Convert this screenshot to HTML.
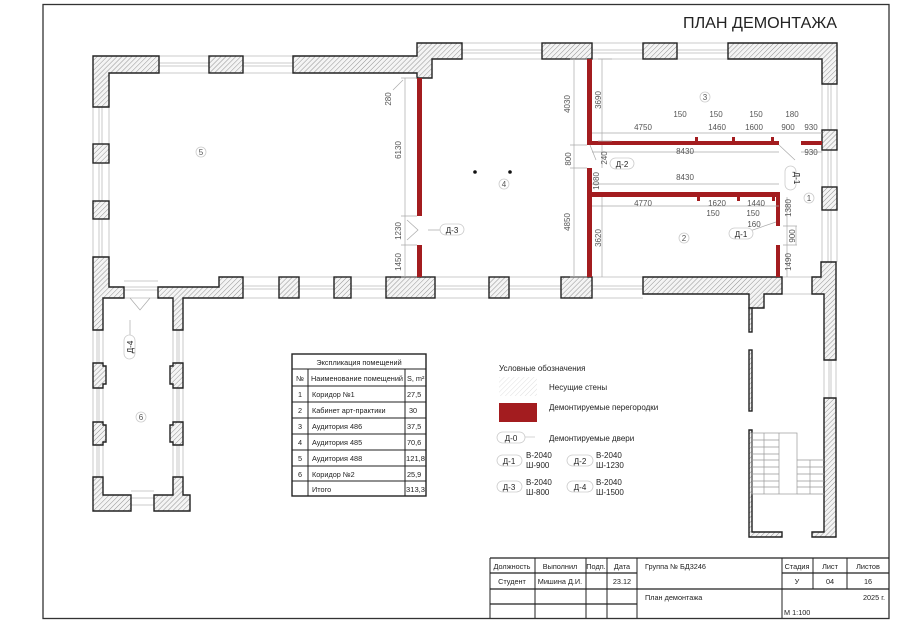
<!DOCTYPE html>
<html><head><meta charset="utf-8"><style>
html,body{margin:0;padding:0;background:#fff;}
svg{display:block;font-family:"Liberation Sans","DejaVu Sans",sans-serif;}
.w{fill:url(#h);stroke:#222;stroke-width:1.4;}
.r{fill:#a31c1f;}
.d{stroke:#aaa;stroke-width:0.7;fill:none;}
.t{font-size:8px;fill:#555;}
.tb{font-size:8px;fill:#222;}
.tt{font-size:7.3px;fill:#222;}
.win{stroke:#bbb;stroke-width:0.8;fill:none;}
.pill{fill:#fff;stroke:#ccc;stroke-width:0.8;}
</style></head><body>
<svg width="900" height="633" viewBox="0 0 900 633" xmlns="http://www.w3.org/2000/svg">
<defs>
<pattern id="h" width="3.5" height="3.5" patternUnits="userSpaceOnUse" patternTransform="rotate(45)">
<rect width="3.5" height="3.5" fill="#f4f4f4"/><line x1="0" y1="0" x2="0" y2="3.5" stroke="#888" stroke-width="0.9"/>
</pattern>
<pattern id="hl" width="3.5" height="3.5" patternUnits="userSpaceOnUse" patternTransform="rotate(45)">
<rect width="3.5" height="3.5" fill="#fff"/><line x1="0" y1="0" x2="0" y2="3.5" stroke="#ddd" stroke-width="0.9"/>
</pattern>
</defs>
<rect x="43" y="4.5" width="846" height="614" fill="none" stroke="#333" stroke-width="1.3"/>
<text x="683" y="28" font-size="15.5" fill="#222" textLength="154" lengthAdjust="spacingAndGlyphs">ПЛАН ДЕМОНТАЖА</text>

<g class="win">
<path d="M159 56H209M159 73H209M159 63H209M159 66H209"/>
<path d="M243 56H293M243 73H293M243 63H293M243 66H293"/>
<path d="M462 43H542M462 59H542M462 50H542M462 53H542"/>
<path d="M592 43H643M592 59H643M592 50H643M592 53H643"/>
<path d="M677 43H728M677 59H728M677 50H728M677 53H728"/>
<path d="M822 84V130M837 84V130M828 84V130M831 84V130"/>
<path d="M822 150V187M837 150V187M828 150V187M831 150V187"/>
<path d="M822 210V262M837 210V262M828 210V262M831 210V262"/>
<path d="M93 107V144M109 107V144M99 107V144M102 107V144"/>
<path d="M93 163V201M109 163V201M99 163V201M102 163V201"/>
<path d="M93 219V257M109 219V257M99 219V257M102 219V257"/>
<path d="M243 277H279M243 298H279M243 286H279M243 289H279"/>
<path d="M299 277H334M299 298H334M299 286H334M299 289H334"/>
<path d="M351 277H386M351 298H386M351 286H386M351 289H386"/>
<path d="M435 277H489M435 298H489M435 286H489M435 289H489"/>
<path d="M509 277H561M509 298H561M509 286H561M509 289H561"/>
<path d="M592 277H643M592 298H643M592 286H643M592 289H643"/>
<path d="M124 281H158M124 298H158M124 287H158M124 290H158"/>
<path d="M93 330V363M103 330V363M97 330V363M99 330V363"/>
<path d="M93 388V422M103 388V422M97 388V422M99 388V422"/>
<path d="M93 445V477M103 445V477M97 445V477M99 445V477"/>
<path d="M173 330V363M183 330V363M177 330V363M179 330V363"/>
<path d="M173 388V422M183 388V422M177 388V422M179 388V422"/>
<path d="M173 445V477M183 445V477M177 445V477M179 445V477"/>
<path d="M131 491H154M131 505H154M131 498H154"/>
<path d="M824 360V398M836 360V398M829 360V398M831 360V398"/>
<path d="M782 277H812M782 294H812"/>
</g>

<g class="w">
<path d="M93 56H159V73H109V107H93Z"/>
<rect x="209" y="56" width="34" height="17"/>
<path d="M293 56H417V43H462V59H432V78H417V73H293Z"/>
<rect x="542" y="43" width="50" height="16"/>
<rect x="643" y="43" width="34" height="16"/>
<path d="M728 43H837V84H822V59H728Z"/>
<rect x="822" y="130" width="15" height="20"/>
<rect x="822" y="187" width="15" height="23"/>
<rect x="93" y="144" width="16" height="19"/>
<rect x="93" y="201" width="16" height="18"/>
<path d="M93 257H109V287H124V298H103V330H93Z"/>
<path d="M158 287H219V277H243V298H183V330H173V298H158Z"/>
<rect x="279" y="277" width="20" height="21"/>
<rect x="334" y="277" width="17" height="21"/>
<rect x="386" y="277" width="49" height="21"/>
<rect x="489" y="277" width="20" height="21"/>
<rect x="561" y="277" width="31" height="21"/>
<path d="M643 277H782V294H764V308H749V294H643Z"/>
<path d="M821 262H836V360H824V294H812V277H821Z"/>
<path d="M824 398H836V537H812V532H824Z"/>
<rect x="749" y="308" width="3" height="24"/>
<rect x="749" y="350" width="3" height="61"/>
<path d="M749 430H752V532H782V537H749Z"/>
<path d="M93 363H103V366H106V384H103V388H93Z"/>
<path d="M93 422H103V425H106V442H103V445H93Z"/>
<path d="M183 363H173V366H170V384H173V388H183Z"/>
<path d="M183 422H173V425H170V442H173V445H183Z"/>
<path d="M93 477H103V495H131V511H93Z"/>
<path d="M173 477H183V495H190V511H154V495H173Z"/>
</g>

<g stroke="#999" stroke-width="0.7" fill="none">
<rect x="752" y="433" width="45" height="61"/>
<line x1="779" y1="433" x2="779" y2="494"/>
<line x1="764" y1="433" x2="764" y2="494"/>
<path d="M752 440H779M752 447H779M752 454H779M752 460H779M752 467H779M752 474H779M752 481H779M752 487H779"/>
<path d="M797 460H824M797 467H824M797 474H824M797 481H824M797 487H824M797 494H824"/>
<line x1="810" y1="460" x2="810" y2="494"/>
</g>

<g class="r">
<rect x="417" y="78" width="5" height="138"/>
<rect x="417" y="245" width="5" height="32"/>
<rect x="587" y="59" width="5" height="86"/>
<rect x="587" y="168" width="5" height="109"/>
<rect x="592" y="141" width="187" height="4"/>
<rect x="801" y="141" width="21" height="4"/>
<rect x="695" y="137" width="3" height="5"/>
<rect x="732" y="137" width="3" height="5"/>
<rect x="771" y="137" width="3" height="5"/>
<rect x="592" y="192" width="188" height="5"/>
<rect x="776" y="192" width="4" height="34"/>
<rect x="776" y="245" width="4" height="32"/>
<rect x="697" y="196" width="3" height="5"/>
<rect x="737" y="196" width="3" height="5"/>
<rect x="772" y="196" width="3" height="5"/>
</g>

<g class="d">
<path d="M405 78V277M401 78H417M401 216H417M401 245H417M401 277H417"/>
<path d="M574 59V277M570 59H587M570 145H587M570 168H587M570 277H587"/>
<path d="M602 59V141M602 145V168M602 197V277M598 59H612M598 141H612"/>
<path d="M592 133H822M592 152H779M801 152H822M592 184H779M592 206H779"/>
<path d="M787 197V277M783 226H797M783 245H797"/>
<path d="M779 145L795 160M741 234L776 222M796 226V245"/>
<path d="M407 220L418 230L407 240M428 230H440"/>
<path d="M130 298L140 310L150 298M130 320V340"/>
<path d="M393 90L403 80M590 145L596 160"/>
</g>
<g class="t">
<text transform="translate(391,99) rotate(-90)" text-anchor="middle">280</text>
<text transform="translate(401,150) rotate(-90)" text-anchor="middle">6130</text>
<text transform="translate(401,231) rotate(-90)" text-anchor="middle">1230</text>
<text transform="translate(401,262) rotate(-90)" text-anchor="middle">1450</text>
<text transform="translate(570,104) rotate(-90)" text-anchor="middle">4030</text>
<text transform="translate(601,100) rotate(-90)" text-anchor="middle">3690</text>
<text transform="translate(571,159) rotate(-90)" text-anchor="middle">800</text>
<text transform="translate(607,158) rotate(-90)" text-anchor="middle">240</text>
<text transform="translate(599,181) rotate(-90)" text-anchor="middle">1080</text>
<text transform="translate(570,222) rotate(-90)" text-anchor="middle">4850</text>
<text transform="translate(601,238) rotate(-90)" text-anchor="middle">3620</text>
<text transform="translate(791,208) rotate(-90)" text-anchor="middle">1380</text>
<text transform="translate(795,236) rotate(-90)" text-anchor="middle">900</text>
<text transform="translate(791,262) rotate(-90)" text-anchor="middle">1490</text>
<text x="680" y="117" text-anchor="middle">150</text>
<text x="716" y="117" text-anchor="middle">150</text>
<text x="756" y="117" text-anchor="middle">150</text>
<text x="792" y="117" text-anchor="middle">180</text>
<text x="643" y="130" text-anchor="middle">4750</text>
<text x="717" y="130" text-anchor="middle">1460</text>
<text x="754" y="130" text-anchor="middle">1600</text>
<text x="788" y="130" text-anchor="middle">900</text>
<text x="811" y="130" text-anchor="middle">930</text>
<text x="685" y="154" text-anchor="middle">8430</text>
<text x="811" y="155" text-anchor="middle">930</text>
<text x="685" y="180" text-anchor="middle">8430</text>
<text x="643" y="206" text-anchor="middle">4770</text>
<text x="717" y="206" text-anchor="middle">1620</text>
<text x="756" y="206" text-anchor="middle">1440</text>
<text x="713" y="216" text-anchor="middle">150</text>
<text x="753" y="216" text-anchor="middle">150</text>
<text x="754" y="227" text-anchor="middle">160</text>
</g>
<g>
<circle cx="705" cy="97" r="5" class="pill"/><text x="705" y="100" class="t" text-anchor="middle">3</text>
<circle cx="809" cy="198" r="5" class="pill"/><text x="809" y="201" class="t" text-anchor="middle">1</text>
<circle cx="684" cy="238" r="5" class="pill"/><text x="684" y="241" class="t" text-anchor="middle">2</text>
<circle cx="504" cy="184" r="5" class="pill"/><text x="504" y="187" class="t" text-anchor="middle">4</text>
<circle cx="201" cy="152" r="5" class="pill"/><text x="201" y="155" class="t" text-anchor="middle">5</text>
<circle cx="141" cy="417" r="5" class="pill"/><text x="141" y="420" class="t" text-anchor="middle">6</text>
<circle cx="475" cy="172" r="1.8" fill="#111"/><circle cx="510" cy="172" r="1.8" fill="#111"/>
<rect x="610" y="158" width="24" height="11" rx="5.5" class="pill"/><text x="622" y="167" class="tb" text-anchor="middle">Д-2</text>
<rect x="440" y="224" width="24" height="11" rx="5.5" class="pill"/><text x="452" y="233" class="tb" text-anchor="middle">Д-3</text>
<rect x="729" y="228" width="24" height="11" rx="5.5" class="pill"/><text x="741" y="237" class="tb" text-anchor="middle">Д-1</text>
<rect x="785" y="166" width="11" height="24" rx="5.5" class="pill"/><text transform="translate(794,178) rotate(90)" class="tb" text-anchor="middle">Д-1</text>
<rect x="124" y="335" width="11" height="24" rx="5.5" class="pill"/><text transform="translate(133,347) rotate(-90)" class="tb" text-anchor="middle">Д-4</text>
</g>

<g stroke="#222" stroke-width="1" fill="none">
<rect x="292" y="354" width="134" height="142" stroke-width="1.4"/>
<path d="M292 369H426M292 386H426M292 402H426M292 418H426M292 434H426M292 450H426M292 466H426M292 481H426"/>
<path d="M308 369V496M405 369V496"/>
</g>
<g class="tt">
<text x="359" y="365" text-anchor="middle">Экспликация помещений</text>
<text x="300" y="381" text-anchor="middle">№</text><text x="311" y="381" textLength="92" lengthAdjust="spacingAndGlyphs">Наименование помещений</text><text x="407" y="381">S, m²</text>
<text x="300" y="397" text-anchor="middle">1</text><text x="312" y="397">Коридор №1</text><text x="407" y="397">27,5</text>
<text x="300" y="413" text-anchor="middle">2</text><text x="312" y="413">Кабинет арт-практики</text><text x="409" y="413">30</text>
<text x="300" y="429" text-anchor="middle">3</text><text x="312" y="429">Аудитория 486</text><text x="407" y="429">37,5</text>
<text x="300" y="445" text-anchor="middle">4</text><text x="312" y="445">Аудитория 485</text><text x="407" y="445">70,6</text>
<text x="300" y="461" text-anchor="middle">5</text><text x="312" y="461">Аудитория 488</text><text x="406" y="461" textLength="19" lengthAdjust="spacingAndGlyphs">121,8</text>
<text x="300" y="477" text-anchor="middle">6</text><text x="312" y="477">Коридор №2</text><text x="407" y="477">25,9</text>
<text x="312" y="492">Итого</text><text x="406" y="492" textLength="19" lengthAdjust="spacingAndGlyphs">313,3</text>
</g>

<g class="tb">
<text x="499" y="371">Условные обозначения</text>
<rect x="499" y="377" width="38" height="19" fill="url(#hl)"/>
<text x="549" y="390">Несущие стены</text>
<rect x="499" y="403" width="38" height="19" fill="#a31c1f"/>
<text x="549" y="410">Демонтируемые перегородки</text>
<rect x="497" y="432" width="28" height="11" rx="5.5" class="pill"/><text x="511" y="441" text-anchor="middle">Д-0</text>
<line x1="525" y1="437" x2="535" y2="437" stroke="#ccc" stroke-width="0.8"/>
<text x="549" y="441">Демонтируемые двери</text>
<rect x="497" y="455" width="25" height="11" rx="5.5" class="pill"/><text x="509" y="464" text-anchor="middle">Д-1</text>
<text x="526" y="458">В-2040</text><text x="526" y="468">Ш-900</text>
<rect x="567" y="455" width="26" height="11" rx="5.5" class="pill"/><text x="580" y="464" text-anchor="middle">Д-2</text>
<text x="596" y="458">В-2040</text><text x="596" y="468">Ш-1230</text>
<rect x="497" y="481" width="25" height="11" rx="5.5" class="pill"/><text x="509" y="490" text-anchor="middle">Д-3</text>
<text x="526" y="485">В-2040</text><text x="526" y="495">Ш-800</text>
<rect x="567" y="481" width="26" height="11" rx="5.5" class="pill"/><text x="580" y="490" text-anchor="middle">Д-4</text>
<text x="596" y="485">В-2040</text><text x="596" y="495">Ш-1500</text>
</g>

<g stroke="#222" stroke-width="1" fill="none">
<path d="M490 558H889M490 573H637M782 573H889M490 589H889M490 604H637" stroke-width="1.2"/>
<path d="M490 558V618M535 558V618M586 558V618M607 558V618M637 558V618M782 558V618M813 558V589M847 558V589"/>
</g>
<g class="tt">
<text x="512" y="569" text-anchor="middle">Должность</text>
<text x="560" y="569" text-anchor="middle">Выполнил</text>
<text x="596" y="569" text-anchor="middle">Подп.</text>
<text x="622" y="569" text-anchor="middle">Дата</text>
<text x="645" y="569">Группа № БД3246</text>
<text x="797" y="569" text-anchor="middle">Стадия</text>
<text x="830" y="569" text-anchor="middle">Лист</text>
<text x="868" y="569" text-anchor="middle">Листов</text>
<text x="512" y="584" text-anchor="middle">Студент</text>
<text x="560" y="584" text-anchor="middle">Мишина Д.И.</text>
<text x="622" y="584" text-anchor="middle">23.12</text>
<text x="797" y="584" text-anchor="middle">У</text>
<text x="830" y="584" text-anchor="middle">04</text>
<text x="868" y="584" text-anchor="middle">16</text>
<text x="645" y="600">План демонтажа</text>
<text x="885" y="600" text-anchor="end">2025 г.</text>
<text x="784" y="615">М 1:100</text>
</g>
</svg>
</body></html>
